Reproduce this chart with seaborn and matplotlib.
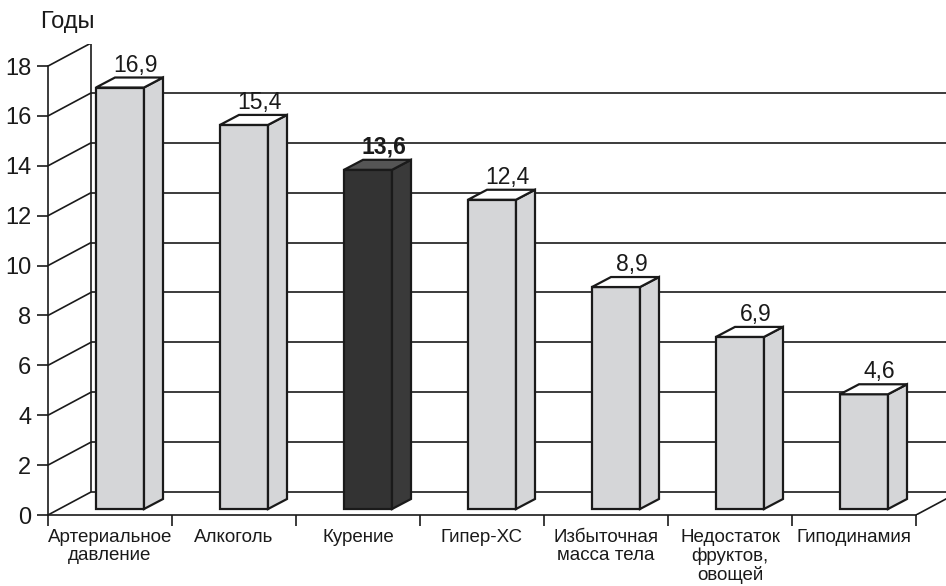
import matplotlib
matplotlib.use("Agg")
import matplotlib.pyplot as plt
from matplotlib import font_manager
from matplotlib.patches import Polygon
import seaborn as sns
import pandas as pd

categories = ["Артериальное\nдавление", "Алкоголь", "Курение", "Гипер-ХС",
              "Избыточная\nмасса тела", "Недостаток\nфруктов,\nовощей", "Гиподинамия"]
values = [16.9, 15.4, 13.6, 12.4, 8.9, 6.9, 4.6]
highlighted = "Курение"
y_ticks = [0, 2, 4, 6, 8, 10, 12, 14, 16, 18]
y_title = "Годы"

sns.set_style("white")
installed = {f.name for f in font_manager.fontManager.ttflist}
family = "Liberation Sans Narrow" if "Liberation Sans Narrow" in installed else "Liberation Sans"
plt.rcParams["font.family"] = [family, "DejaVu Sans"]

INK = "#1a1a1a"
LIGHT, LIGHT_TOP = "#d5d6d8", "#ffffff"
DARK, DARK_SIDE, DARK_TOP = "#333333", "#3a3a3a", "#555555"

W, H = 946, 586
fig = plt.figure(figsize=(W / 100, H / 100), dpi=100)

# front plane geometry in pixels
px_x, px_y = 124.0, 24.94
left_px, base_px, top_px = 48, 515, 44
ax = fig.add_axes([left_px / W, (H - base_px) / H, (W - left_px) / W, (base_px - top_px) / H])

# depth of the wall box and of each bar, expressed in data units
wall_dx, wall_dy = 43 / px_x, 23 / px_y
bar_dx, bar_dy = 19 / px_x, 10 / px_y
bar_w = 48 / px_x
bar_shift_x, bar_base = 10 / px_x, 6 / px_y
label_gap = 6 / px_y

df = pd.DataFrame({"category": categories, "value": values})
palette = {c: (DARK if c == highlighted else LIGHT) for c in categories}
sns.barplot(data=df, x="category", y="value", hue="category", palette=palette,
            width=bar_w, saturation=1, edgecolor=INK, linewidth=1.6,
            legend=False, ax=ax, zorder=3)

n = len(categories)
xmax = -0.5 + (W - left_px) / px_x
ymax = (base_px - top_px) / px_y
ax.set_xlim(-0.5, xmax)
ax.set_ylim(0, ymax)

# back wall, left wall and floor
line_kw = dict(color=INK, lw=1.2, zorder=1, solid_capstyle="butt")
bx = -0.5 + wall_dx
for t in y_ticks:
    ax.plot([-0.5, bx], [t, t + wall_dy], **line_kw)
    ax.plot([bx, xmax], [t + wall_dy, t + wall_dy], **line_kw)
ax.plot([bx, bx], [wall_dy, y_ticks[-1] + wall_dy], **line_kw)
ax.plot([n - 0.5, n - 0.5 + wall_dx], [0, wall_dy], **line_kw)

# turn the flat bars into boxes
bars = sorted(ax.patches, key=lambda p: p.get_x())
for p, cat, v in zip(bars, categories, values):
    p.set_x(p.get_x() + bar_shift_x)
    p.set_y(bar_base)
    x0, x1 = p.get_x(), p.get_x() + p.get_width()
    y0, y1 = bar_base, bar_base + v
    dark = cat == highlighted
    side = Polygon([(x1, y0), (x1 + bar_dx, y0 + bar_dy), (x1 + bar_dx, y1 + bar_dy), (x1, y1)],
                   closed=True, facecolor=DARK_SIDE if dark else LIGHT,
                   edgecolor=INK, lw=1.6, zorder=3, joinstyle="miter")
    top = Polygon([(x0, y1), (x0 + bar_dx, y1 + bar_dy), (x1 + bar_dx, y1 + bar_dy), (x1, y1)],
                  closed=True, facecolor=DARK_TOP if dark else LIGHT_TOP,
                  edgecolor=INK, lw=1.6, zorder=3, joinstyle="miter")
    ax.add_patch(side)
    ax.add_patch(top)
    label = f"{v:.1f}".replace(".", ",")
    ax.text((x0 + x1) / 2 + bar_dx / 2 + 0.05, y1 + bar_dy + label_gap, label,
            ha="center", va="baseline", fontsize=16.5, color=INK,
            fontweight="bold" if dark else "normal", zorder=4)

# axes frame and ticks
for s in ("top", "right"):
    ax.spines[s].set_visible(False)
for s in ("left", "bottom"):
    ax.spines[s].set_color(INK)
    ax.spines[s].set_linewidth(1.2)
ax.spines["left"].set_bounds(0, y_ticks[-1])
ax.spines["bottom"].set_bounds(-0.5, n - 0.5)

ax.set_yticks(y_ticks)
ax.set_yticklabels([str(t) for t in y_ticks], fontsize=17, color=INK)
ax.set_xticks([i - 0.5 for i in range(n + 1)])
ax.set_xticklabels([""] * (n + 1))
ax.set_xticks(range(n), minor=True)
ax.set_xticklabels(categories, minor=True, fontsize=13.5, color=INK, linespacing=1.1)
ax.tick_params(axis="both", which="major", direction="out", length=8, width=1.2,
               color=INK, left=True, bottom=True, pad=4)
ax.tick_params(axis="x", which="minor", length=0, pad=10)
ax.set_xlabel("")
ax.set_ylabel("")

fig.text(67 / W, 1 - 22 / H, y_title, ha="center", va="center", fontsize=17, color=INK)

fig.savefig("out.png", dpi=100)
